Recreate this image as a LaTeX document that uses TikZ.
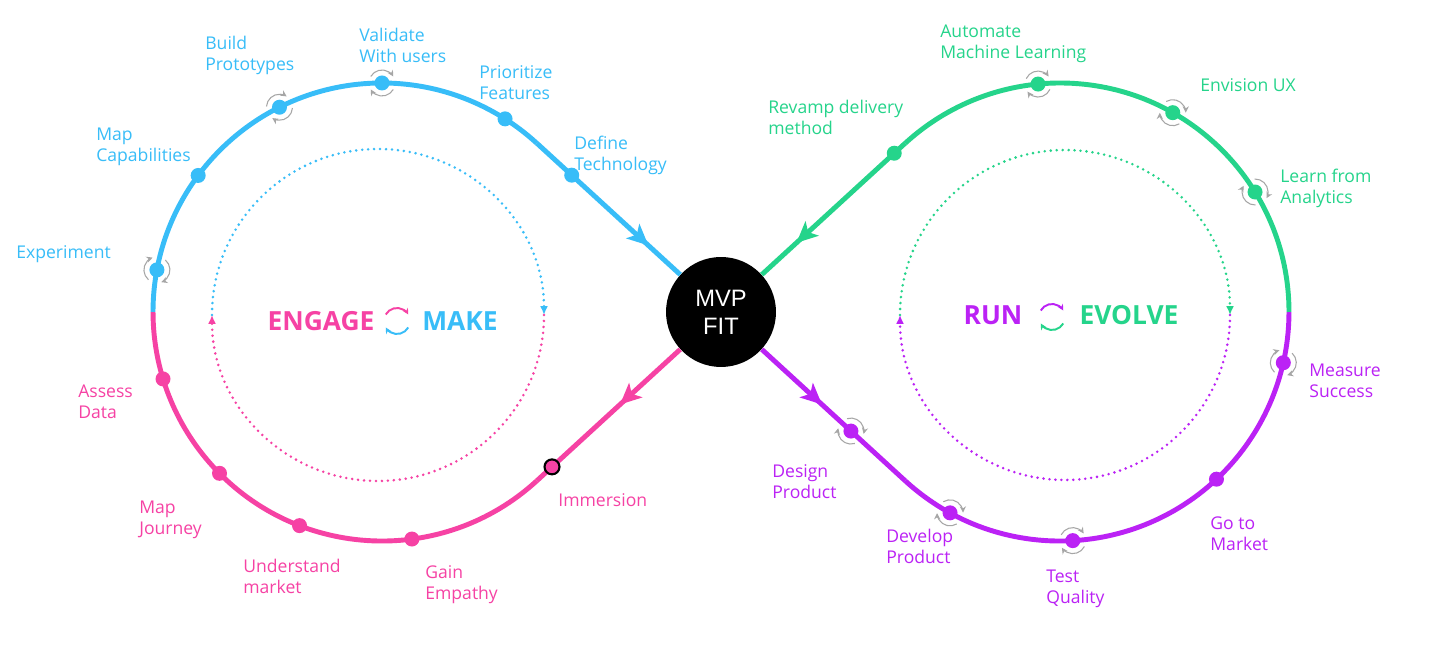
\documentclass[tikz,border=0pt]{standalone}
\usepackage{fontspec}
\setmainfont{Open Sans}
\newfontfamily\mvpfont{Liberation Sans}
\usepackage{tikz}
\usetikzlibrary{arrows.meta}
\usetikzlibrary{calc}
\usetikzlibrary{decorations.markings}
\definecolor{blueC}{RGB}{56,189,248}
\definecolor{pinkC}{RGB}{246,66,164}
\definecolor{greenC}{RGB}{37,212,139}
\definecolor{purpC}{RGB}{187,34,245}

\begin{document}
\begin{tikzpicture}[x=0.02cm, y=0.02cm,
    lane/.style={line width=2.8pt},
    arrowat/.style={postaction={decorate}, decoration={markings,
        mark=at position #1 with {\arrow{Stealth[length=12pt,width=11pt,inset=3pt]}}}},
    ring/.style={line width=1.6pt, line cap=round, dash pattern=on 0pt off 3.4pt},
    bead/.style={circle, fill=#1, inner sep=0pt, minimum size=0.3cm},
    lbl/.style={text=#1, font=\fontsize{10}{12}\selectfont, align=left, inner sep=0pt, anchor=west},
    big/.style={text=#1, font=\fontsize{15}{18}\selectfont\bfseries, inner sep=0pt},
    spin/.style={line width=0.6pt},
    pics/cyc/.style 2 args={code={
      \draw[#1, -{Stealth[length=3.5pt,width=3.5pt]}] (150:13) arc[start angle=150, end angle=30, radius=13];
      \draw[#2, -{Stealth[length=3.5pt,width=3.5pt]}] (-30:13) arc[start angle=-30, end angle=-150, radius=13];
    }}]
      \fill[white] (0,0) rectangle (1440,648);
      \useasboundingbox (0,0) rectangle (1440,648);

      \node[circle, fill=black, minimum size=2.2cm, inner sep=0pt, text=white,
            font=\mvpfont\fontsize{13.5}{16}\selectfont, align=center] (mvp) at (721,336) {MVP\\FIT};

      \coordinate (CL) at (382,336);
      \coordinate (CR) at (1060,336);
      \coordinate (LX) at (153,336);
      \coordinate (RX) at (1289,336);
      \coordinate (TUL) at (536.7,504.9);
      \coordinate (TLL) at (536.7,167.1);
      \coordinate (TUR) at (905.3,504.9);
      \coordinate (TLR) at (905.3,167.1);

      \draw[lane, blueC] (LX) arc[start angle=180, end angle=47.51, radius=229];
      \draw[lane, blueC, arrowat=0.78] (TUL) -- (mvp);
      \draw[lane, pinkC, arrowat=0.42] (mvp) -- (TLL);
      \draw[lane, pinkC] (TLL) arc[start angle=-47.51, end angle=-180, radius=229];
      \draw[lane, purpC, arrowat=0.42] (mvp) -- (TLR);
      \draw[lane, purpC] (TLR) arc[start angle=-132.49, end angle=0, radius=229];
      \draw[lane, greenC] (RX) arc[start angle=0, end angle=132.49, radius=229];
      \draw[lane, greenC, arrowat=0.76] (TUR) -- (mvp);

      \draw[ring, blueC, -{Latex[length=5pt,width=4.5pt]}] (212,333) arc[start angle=180, end angle=0, radius=166];
      \draw[ring, pinkC, -{Latex[length=5pt,width=4.5pt]}] (544,333) arc[start angle=0, end angle=-180, radius=166];
      \draw[ring, greenC, -{Latex[length=5pt,width=4.5pt]}] (900,333) arc[start angle=180, end angle=0, radius=165];
      \draw[ring, purpC, -{Latex[length=5pt,width=4.5pt]}] (1230,333) arc[start angle=0, end angle=-180, radius=165];

      \node[big=pinkC] (engage) at (321,327) {ENGAGE};
      \pic[line width=1.1pt] at (397,327) {cyc={pinkC}{blueC}};
      \node[big=blueC] (make) at (460,327) {MAKE};
      \node[big=purpC] (run) at (993,333) {RUN};
      \pic[line width=1.1pt] at (1052,331) {cyc={purpC}{greenC}};
      \node[big=greenC] (evolve) at (1129,333) {EVOLVE};

      \node[bead=blueC] (exp-d) at ($(CL)+(169.4:229)$) {};
      \node[bead=blueC] (mapc-d) at ($(CL)+(143.4:229)$) {};
      \node[bead=blueC] (build-d) at ($(CL)+(116.6:229)$) {};
      \node[bead=blueC] (valid-d) at ($(CL)+(90:229)$) {};
      \node[bead=blueC] (prior-d) at ($(CL)+(57.5:229)$) {};
      \node[bead=blueC] (tech-d) at ($(TUL)!0.19!(mvp.center)$) {};

      \node[bead=pinkC] (assess-d) at ($(CL)+(197:229)$) {};
      \node[bead=pinkC] (mapj-d) at ($(CL)+(224.8:229)$) {};
      \node[bead=pinkC] (under-d) at ($(CL)+(248.9:229)$) {};
      \node[bead=pinkC] (gain-d) at ($(CL)+(277.5:229)$) {};
      \node[bead=pinkC, draw=black, line width=1.2pt] (imm-d) at ($(TLL)!0.083!(mvp.center)$) {};

      \node[bead=greenC] (revamp-d) at ($(TUR)!0.06!(mvp.center)$) {};
      \node[bead=greenC] (auto-d) at ($(CR)+(95.5:229)$) {};
      \node[bead=greenC] (envis-d) at ($(CR)+(60.5:229)$) {};
      \node[bead=greenC] (learn-d) at ($(CR)+(31.6:229)$) {};

      \node[bead=purpC] (measure-d) at ($(CR)+(-12.8:229)$) {};
      \node[bead=purpC] (goto-d) at ($(CR)+(-46.9:229)$) {};
      \node[bead=purpC] (test-d) at ($(CR)+(-86.8:229)$) {};
      \node[bead=purpC] (dev-d) at ($(CR)+(-118.7:229)$) {};
      \node[bead=purpC] (design-d) at ($(mvp.center)!0.705!(TLR)$) {};

      \pic[spin, rotate=259.4] at (exp-d) {cyc={gray!70}{gray!70}};
      \pic[spin, rotate=206.6] at (build-d) {cyc={gray!70}{gray!70}};
      \pic[spin, rotate=180] at (valid-d) {cyc={gray!70}{gray!70}};
      \pic[spin, rotate=185.5] at (auto-d) {cyc={gray!70}{gray!70}};
      \pic[spin, rotate=150.5] at (envis-d) {cyc={gray!70}{gray!70}};
      \pic[spin, rotate=121.6] at (learn-d) {cyc={gray!70}{gray!70}};
      \pic[spin, rotate=77.2] at (measure-d) {cyc={gray!70}{gray!70}};
      \pic[spin, rotate=3.2] at (test-d) {cyc={gray!70}{gray!70}};
      \pic[spin, rotate=-28.7] at (dev-d) {cyc={gray!70}{gray!70}};
      \pic[spin, rotate=-42.5] at (design-d) {cyc={gray!70}{gray!70}};

      \node[lbl=blueC] (exp) at (16,394) {Experiment};
      \node[lbl=blueC] (mapc) at (96,501.5) {Map\\Capabilities};
      \node[lbl=blueC] (build) at (205,592.5) {Build\\Prototypes};
      \node[lbl=blueC] (valid) at (359,602.5) {Validate\\With users};
      \node[lbl=blueC] (prior) at (479,565.5) {Prioritize\\Features};
      \node[lbl=blueC] (tech) at (574,492.5) {Define\\Technology};

      \node[lbl=pinkC] (assess) at (78,246.5) {Assess\\Data};
      \node[lbl=pinkC] (mapj) at (139,128) {Map\\Journey};
      \node[lbl=pinkC] (under) at (243,72) {Understand\\market};
      \node[lbl=pinkC] (gain) at (425,63.5) {Gain\\Empathy};
      \node[lbl=pinkC] (imm) at (558,148) {Immersion};

      \node[lbl=greenC] (revamp) at (768,530.5) {Revamp delivery\\method};
      \node[lbl=greenC] (auto) at (940,604.5) {Automate\\Machine Learning};
      \node[lbl=greenC] (envis) at (1200,563) {Envision UX};
      \node[lbl=greenC] (learn) at (1280,459.5) {Learn from\\Analytics};

      \node[lbl=purpC] (measure) at (1309,267.5) {Measure\\Success};
      \node[lbl=purpC] (goto) at (1210,114.5) {Go to\\Market};
      \node[lbl=purpC] (test) at (1046,59.5) {Test\\Quality};
      \node[lbl=purpC] (dev) at (886,101.5) {Develop\\Product};
      \node[lbl=purpC] (design) at (772,166.5) {Design\\Product};
\end{tikzpicture}
\end{document}
